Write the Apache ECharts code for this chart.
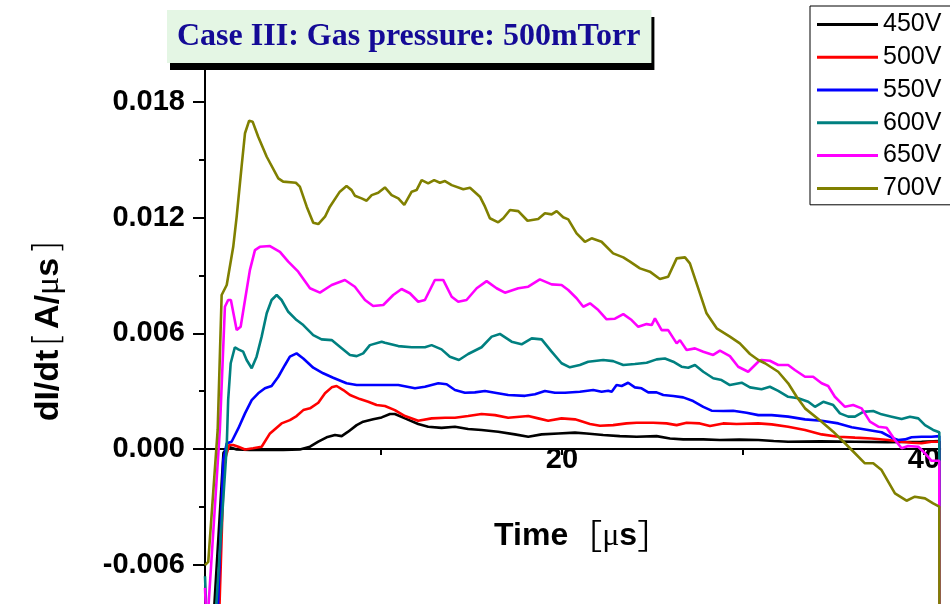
<!DOCTYPE html>
<html>
<head>
<meta charset="utf-8">
<script src="https://cdn.jsdelivr.net/npm/echarts@6/dist/echarts.min.js"></script>
<style>
  html, body { margin: 0; padding: 0; background: #ffffff; }
  #chart { width: 950px; height: 604px; }
</style>
</head>
<body>
<div id="chart"></div>
<script>
// Discharge current derivative dI/dt [A/us] versus time [us], 500 mTorr.
const seriesNames = ['450V', '500V', '550V', '600V', '650V', '700V'];

// x tick positions and labelled ticks (us)
const xTickValues = [10, 20, 30, 40];
const xLabelValues = [20, 40];

// [time (us), dI/dt (A/us)]
const v450 = [[0.28,-0.012],[0.55,-0.012],[1.3,-0.0002],[1.56,0.00012],[2.03,-0.00002],[2.76,-0.00005],[4.6,-0.00005],[5.52,-0.00002],[6.08,0.00012],[6.54,0.00038],[7.0,0.00061],[7.46,0.00073],[7.83,0.00067],[8.19,0.0009],[8.66,0.00124],[9.02,0.00142],[9.57,0.00154],[10.04,0.00164],[10.5,0.00182],[10.77,0.00182],[11.33,0.00159],[12.06,0.0013],[12.61,0.00116],[13.35,0.0011],[14.09,0.00116],[14.82,0.00104],[15.56,0.00099],[16.48,0.0009],[17.4,0.00076],[18.14,0.00064],[18.88,0.00076],[19.8,0.00081],[20.72,0.00085],[21.36,0.00081],[22.28,0.00073],[23.2,0.00067],[24.13,0.00064],[25.23,0.00067],[25.97,0.00055],[26.7,0.0005],[27.81,0.0005],[28.73,0.00047],[29.8,0.00049],[30.85,0.00047],[31.7,0.00042],[32.5,0.00038],[34.3,0.0004],[36.19,0.00038],[38.0,0.00036],[39.87,0.00038],[40.85,0.00041],[40.86,-0.012]];

const v500 = [[0.28,-0.012],[0.95,-0.012],[1.33,-0.0007],[1.62,0.00021],[1.84,0.00021],[2.12,0.00012],[2.49,-0.00002],[2.94,0.00004],[3.41,0.00012],[3.87,0.00081],[4.51,0.00133],[4.97,0.0015],[5.34,0.00171],[5.71,0.00202],[6.08,0.00211],[6.54,0.0024],[6.91,0.00289],[7.28,0.0032],[7.55,0.00327],[7.92,0.00306],[8.29,0.0028],[8.84,0.00259],[9.3,0.00245],[9.76,0.00228],[10.22,0.00223],[10.77,0.00202],[11.33,0.00171],[12.06,0.00147],[12.8,0.00159],[13.54,0.00162],[14.09,0.00162],[14.82,0.00171],[15.56,0.00182],[16.3,0.00176],[17.03,0.00162],[18.14,0.00171],[18.69,0.00159],[19.24,0.00147],[19.98,0.00159],[20.72,0.00154],[20.99,0.00147],[21.55,0.0013],[22.1,0.00121],[22.83,0.00124],[23.57,0.00133],[24.13,0.00136],[25.04,0.00136],[25.78,0.00133],[26.34,0.00124],[26.89,0.00136],[27.62,0.00133],[28.18,0.00119],[28.91,0.00133],[29.65,0.0013],[30.85,0.00133],[31.59,0.00128],[32.5,0.00116],[33.43,0.00099],[34.35,0.00076],[35.27,0.00064],[36.19,0.00059],[37.11,0.00055],[38.03,0.00047],[38.77,0.00038],[39.32,0.00033],[39.87,0.0003],[40.42,0.00038],[40.85,0.00038],[40.86,-0.012]];

const v550 = [[0.28,-0.012],[0.85,-0.012],[1.29,-0.00057],[1.48,0.0003],[1.75,0.00038],[2.12,0.00107],[2.49,0.00185],[2.86,0.00254],[3.22,0.00289],[3.59,0.00315],[3.96,0.00327],[4.33,0.00375],[4.7,0.00436],[4.97,0.00479],[5.34,0.00496],[5.71,0.0047],[6.26,0.00422],[6.81,0.00393],[7.36,0.0037],[8.1,0.00341],[8.66,0.00332],[9.21,0.00332],[10.22,0.00332],[10.96,0.00332],[11.88,0.00315],[12.43,0.00323],[13.17,0.00341],[13.63,0.00336],[14.09,0.00306],[14.64,0.00292],[15.19,0.00294],[15.75,0.00301],[16.3,0.00292],[17.03,0.0028],[17.96,0.00276],[18.51,0.00284],[19.06,0.00301],[19.61,0.00292],[20.17,0.00292],[20.99,0.00297],[21.73,0.00306],[22.19,0.00297],[22.56,0.00302],[22.75,0.00297],[23.02,0.00332],[23.3,0.00327],[23.66,0.00344],[24.03,0.0032],[24.4,0.00315],[24.77,0.00294],[25.23,0.00294],[25.6,0.0028],[26.15,0.00275],[26.7,0.00268],[27.25,0.00249],[27.81,0.00219],[28.27,0.00199],[28.91,0.00197],[29.46,0.00199],[30.2,0.00188],[30.85,0.00176],[31.59,0.00176],[32.5,0.00168],[33.43,0.00154],[34.35,0.00147],[35.27,0.00133],[36.01,0.00113],[36.92,0.00099],[37.66,0.00087],[38.22,0.00059],[38.58,0.00047],[38.95,0.0005],[39.32,0.00061],[39.87,0.00064],[40.42,0.00064],[40.85,0.00067],[40.86,-0.012]];

const v600 = [[0.28,-0.0066],[0.4,-0.0095],[0.7,-0.011],[1.48,0.00012],[1.56,0.00254],[1.7,0.00445],[1.93,0.00528],[2.12,0.00517],[2.39,0.00505],[2.58,0.00462],[2.86,0.00419],[3.13,0.00479],[3.41,0.00583],[3.69,0.00704],[3.96,0.00773],[4.24,0.00799],[4.51,0.00773],[4.88,0.00712],[5.34,0.00669],[5.71,0.00643],[6.26,0.00591],[6.72,0.00569],[7.28,0.00565],[7.73,0.00531],[8.29,0.00488],[8.66,0.00482],[9.02,0.00496],[9.39,0.00539],[10.04,0.00557],[10.22,0.00551],[10.96,0.00534],[11.7,0.00528],[12.43,0.00528],[12.8,0.00539],[13.35,0.00517],[13.81,0.00479],[14.31,0.00462],[14.82,0.00493],[15.56,0.00528],[16.12,0.00583],[16.57,0.00597],[17.22,0.00557],[17.77,0.00543],[18.33,0.00574],[18.88,0.00569],[19.43,0.00505],[19.98,0.00445],[20.44,0.00424],[20.99,0.00436],[21.45,0.00453],[22.28,0.00462],[22.83,0.00456],[23.39,0.00436],[24.03,0.00441],[24.68,0.00448],[25.23,0.00465],[25.69,0.0047],[26.15,0.00453],[26.61,0.00427],[26.98,0.00422],[27.35,0.00436],[27.81,0.00401],[28.36,0.00367],[28.82,0.00358],[29.28,0.00332],[29.93,0.00344],[30.39,0.0032],[31.03,0.0031],[31.49,0.00323],[31.95,0.00302],[32.5,0.00271],[33.06,0.00263],[33.61,0.00245],[33.98,0.00219],[34.44,0.00245],[34.99,0.00228],[35.36,0.00185],[35.82,0.00168],[36.19,0.00168],[36.65,0.00193],[37.2,0.00197],[37.66,0.0018],[38.22,0.00168],[38.77,0.00156],[39.23,0.00168],[39.69,0.00159],[40.06,0.00124],[40.51,0.00099],[40.85,0.00087],[40.86,-0.012]];

const v650 = [[0.28,-0.0072],[0.38,-0.0095],[1.1,0.00099],[1.38,0.00738],[1.56,0.00773],[1.71,0.00773],[2.03,0.00617],[2.25,0.00634],[2.49,0.00773],[2.76,0.00928],[3.04,0.01032],[3.31,0.01049],[3.87,0.01053],[4.42,0.01023],[4.88,0.00972],[5.43,0.0092],[6.08,0.00834],[6.63,0.00811],[7.28,0.00851],[8.01,0.00877],[8.56,0.00842],[9.12,0.00773],[9.57,0.00742],[10.13,0.00747],[10.68,0.00799],[11.14,0.0083],[11.6,0.00808],[12.06,0.00764],[12.43,0.00773],[12.98,0.00877],[13.44,0.00877],[13.91,0.0079],[14.27,0.00764],[14.73,0.00773],[15.29,0.00834],[15.84,0.00871],[16.39,0.00834],[16.85,0.00811],[17.59,0.00834],[18.14,0.00842],[18.78,0.0088],[19.43,0.00854],[19.98,0.00851],[20.35,0.00825],[20.81,0.00782],[21.18,0.00738],[21.55,0.00756],[22.01,0.00721],[22.47,0.00673],[22.93,0.00676],[23.39,0.007],[23.85,0.00669],[24.22,0.00634],[24.68,0.00648],[24.96,0.00643],[25.14,0.00678],[25.51,0.00617],[25.87,0.00617],[26.34,0.00548],[26.52,0.00565],[26.89,0.00514],[27.35,0.00522],[27.81,0.00505],[28.36,0.00488],[28.73,0.0051],[29.28,0.00482],[29.74,0.00427],[30.29,0.00401],[30.85,0.00453],[31.03,0.00462],[31.49,0.00458],[31.95,0.00436],[32.5,0.00436],[32.87,0.0041],[33.43,0.00375],[33.88,0.00375],[34.35,0.00341],[34.71,0.00327],[35.08,0.00271],[35.64,0.00219],[36.09,0.00228],[36.56,0.00211],[37.02,0.00142],[37.48,0.00116],[37.94,0.0011],[38.4,0.00047],[38.77,0.00004],[39.13,0.00016],[39.69,0.00012],[40.06,-0.00022],[40.42,-0.00061],[40.85,-0.00061],[40.86,-0.012]];

const v700 = [[0.28,-0.00602],[0.46,-0.00585],[0.98,0.00099],[1.2,0.00799],[1.48,0.00851],[1.84,0.01049],[2.03,0.01205],[2.3,0.01464],[2.49,0.01638],[2.72,0.01703],[2.91,0.01698],[3.22,0.0162],[3.69,0.01516],[4.33,0.01404],[4.6,0.01387],[5.3,0.01381],[5.52,0.01361],[5.9,0.01257],[6.26,0.01174],[6.54,0.01167],[6.91,0.01205],[7.18,0.01257],[7.73,0.01335],[8.1,0.01364],[8.38,0.01343],[8.56,0.01314],[8.93,0.013],[9.21,0.01288],[9.49,0.01317],[9.85,0.01329],[10.22,0.01357],[10.59,0.01317],[10.96,0.013],[11.29,0.01266],[11.7,0.01335],[11.97,0.01343],[12.25,0.01395],[12.61,0.01378],[12.94,0.01395],[13.26,0.01381],[13.54,0.0139],[13.91,0.01369],[14.55,0.01347],[14.92,0.01355],[15.47,0.01309],[15.75,0.01257],[16.02,0.01197],[16.48,0.01176],[16.76,0.01197],[17.13,0.0124],[17.59,0.01234],[18.1,0.01184],[18.69,0.01193],[19.06,0.01223],[19.43,0.01217],[19.71,0.01234],[20.07,0.01202],[20.35,0.01191],[20.81,0.01119],[21.27,0.01075],[21.64,0.01093],[22.19,0.01075],[22.83,0.01015],[23.39,0.00994],[23.76,0.00972],[24.31,0.00937],[24.86,0.0092],[25.41,0.00882],[25.87,0.00894],[26.34,0.00989],[26.8,0.00994],[27.07,0.00963],[27.44,0.00859],[27.99,0.00704],[28.55,0.00626],[29.28,0.00583],[29.83,0.00548],[30.39,0.00493],[30.85,0.00462],[31.22,0.00445],[31.95,0.00401],[32.5,0.00341],[32.97,0.00271],[33.43,0.00211],[34.35,0.00142],[34.99,0.0009],[35.64,0.0003],[36.19,-0.00022],[36.74,-0.00074],[37.2,-0.00074],[37.66,-0.00109],[38.4,-0.0023],[39.04,-0.00268],[39.5,-0.00247],[40.06,-0.00256],[40.51,-0.00282],[40.85,-0.00299],[40.86,-0.012]];

const seriesData = [v450, v500, v550, v600, v650, v700];
const seriesColors = ['#000000', '#ff0000', '#0000ff', '#008080', '#ff00ff', '#808000'];

const SANS = '"Liberation Sans", Arial, sans-serif';
const SERIF = '"Liberation Serif", "Times New Roman", serif';
const CJK = '"Noto Sans CJK SC", sans-serif';
const THIN = '"DejaVu Sans", sans-serif';

// rich text styles for the x-axis title
const xNameRich = {
  b: { fontFamily: SANS, fontWeight: 'bold', fontSize: 32, color: '#000' },
  n: { fontFamily: CJK, fontWeight: 'normal', fontSize: 34, color: '#000' },
  m: { fontFamily: SERIF, fontWeight: 'normal', fontSize: 32, color: '#000' }
};
// rich text styles for the y-axis title
const yNameRich = {
  b: { fontFamily: SANS, fontWeight: 'bold', fontSize: 34, color: '#000' },
  k: { fontFamily: THIN, fontWeight: 200, fontSize: 36, color: '#000' },
  sp: { fontFamily: SANS, fontSize: 12 },
  m: { fontFamily: SERIF, fontWeight: 'normal', fontSize: 34, color: '#000' }
};

const chart = echarts.init(document.getElementById('chart'), null, { renderer: 'canvas' });

chart.setOption({
  animation: false,
  backgroundColor: '#ffffff',
  title: {
    text: 'Case III: Gas pressure: 500mTorr',
    left: 167,
    top: 10,
    padding: [11, 11, 10, 10],
    backgroundColor: '#e4f6e4',
    shadowColor: '#000000',
    shadowBlur: 0,
    shadowOffsetX: 3,
    shadowOffsetY: 7,
    textStyle: { fontFamily: SERIF, fontWeight: 'bold', fontSize: 32, color: '#140a96' }
  },
  legend: {
    orient: 'vertical',
    left: 810,
    top: 6,
    padding: [2, 14, 0, 7],
    itemGap: 0,
    itemWidth: 61,
    itemHeight: 3,
    icon: 'rect',
    borderColor: '#000000',
    borderWidth: 1,
    backgroundColor: '#ffffff',
    textStyle: { fontFamily: SANS, fontSize: 25, color: '#000', lineHeight: 32.8 },
    data: seriesNames
  },
  grid: { left: 205, right: 9.8, top: 67.3, bottom: -76.4, containLabel: false, outerBoundsMode: 'none' },
  xAxis: {
    type: 'value',
    min: 0.28,
    max: 40.9,
    axisLine: { onZero: true, lineStyle: { color: '#000', width: 2 } },
    axisTick: { show: true, inside: false, length: 6, customValues: xTickValues, lineStyle: { color: '#000', width: 2 } },
    // labels and name are offset up from the grid edge to sit under the zero line
    axisLabel: { customValues: xLabelValues, fontFamily: SANS, fontWeight: 'bold', fontSize: 29, color: '#000', margin: -235 },
    splitLine: { show: false },
    name: '{b|Time}{n|［}{m|μ}{b|s}{n|］}',
    nameLocation: 'middle',
    nameGap: -161,
    nameTextStyle: { rich: xNameRich, padding: [0, 0, 0, 20] }
  },
  yAxis: {
    type: 'value',
    min: -0.012,
    max: 0.0198,
    interval: 0.006,
    axisLine: { onZero: false, lineStyle: { color: '#000', width: 2 } },
    axisTick: { show: true, inside: false, length: 12, lineStyle: { color: '#000', width: 2 } },
    minorTick: { show: true, splitNumber: 2, length: 6, lineStyle: { color: '#000', width: 2 } },
    axisLabel: {
      fontFamily: SANS, fontWeight: 'bold', fontSize: 29, color: '#000', margin: 20,
      formatter: function (v) {
        const k = v / 0.006;
        return Math.abs(k - Math.round(k)) < 1e-6 ? v.toFixed(3) : '';
      }
    },
    splitLine: { show: false },
    name: '{b|dI/dt}{sp| }{k|[}{sp| }{b|A/}{m|μ}{b|s}{sp| }{k|]}',
    nameLocation: 'middle',
    nameRotate: 90,
    nameGap: 138,
    nameTextStyle: { rich: yNameRich, padding: [0, 0, 0, 86] }
  },
  series: seriesNames.map(function (name, i) {
    return {
      name: name,
      type: 'line',
      data: seriesData[i],
      showSymbol: false,
      symbol: 'none',
      smooth: false,
      color: seriesColors[i],
      lineStyle: { color: seriesColors[i], width: 2.6 },
      itemStyle: { color: seriesColors[i] },
      z: 2 + i
    };
  })
});
</script>
</body>
</html>
